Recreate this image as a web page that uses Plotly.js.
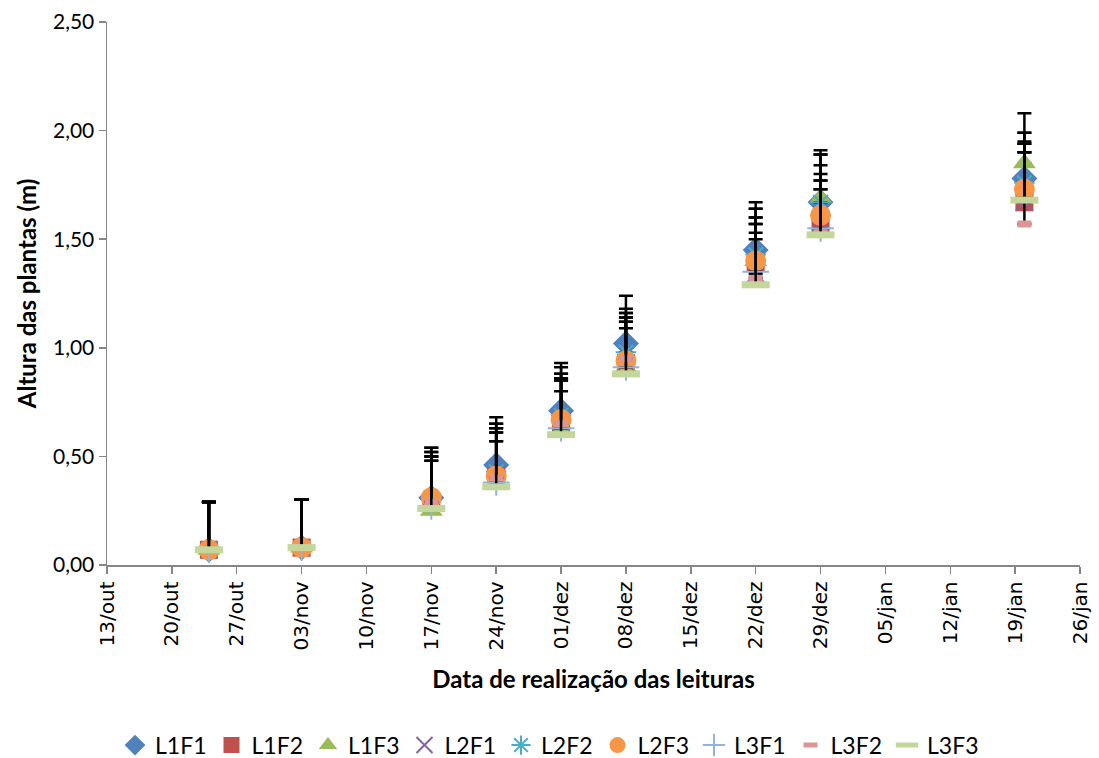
<!DOCTYPE html>
<html>
<head>
<meta charset="utf-8">
<script src="https://cdn.plot.ly/plotly-3.0.1.min.js"></script>
<style>html,body{margin:0;padding:0;background:#fff;}#chart{width:1099px;height:758px;}</style>
</head>
<body>
<div id="chart"></div>
<script>
// Reading dates
var dates = ["2012-10-24","2012-11-03","2012-11-17","2012-11-24","2012-12-01","2012-12-08","2012-12-22","2012-12-29","2013-01-20"];

// Series values (m)
var L1F1 = [0.07,0.08,0.31,0.46,0.71,1.02,1.45,1.67,1.78];
var L1F2 = [0.07,0.08,0.29,0.41,0.65,0.93,1.39,1.57,1.67];
var L1F3 = [0.07,0.08,0.25,0.37,0.62,0.91,1.40,1.69,1.85];
var L2F1 = [0.07,0.08,0.29,0.40,0.66,0.93,1.34,1.58,1.67];
var L2F2 = [0.07,0.08,0.30,0.43,0.69,0.98,1.43,1.67,1.76];
var L2F3 = [0.07,0.08,0.31,0.41,0.67,0.94,1.40,1.61,1.73];
var L3F1 = [0.07,0.08,0.27,0.38,0.63,0.91,1.35,1.55,1.69];
var L3F2 = [0.07,0.08,0.29,0.40,0.65,0.95,1.32,1.53,1.57];
var L3F3 = [0.07,0.08,0.26,0.36,0.60,0.88,1.29,1.52,1.68];

// Plus error values (m)
var errL1F1 = [0.22,0.22,0.23,0.22,0.22,0.22,0.22,0.22,0.21];
var errL1F2 = [0.22,0.22,0.23,0.22,0.21,0.21,0.21,0.23,0.27];
var errL1F3 = [0.22,0.22,0.25,0.24,0.26,0.25,0.24,0.22,0.23];
var errL2F1 = [0.22,0.22,0.23,0.23,0.20,0.19,0.23,0.19,0.23];
var errL2F2 = [0.22,0.22,0.24,0.22,0.22,0.20,0.21,0.22,0.23];
var errL2F3 = [0.22,0.22,0.19,0.24,0.21,0.22,0.20,0.23,0.22];
var errL3F1 = [0.22,0.22,0.21,0.19,0.22,0.21,0.18,0.22,0.25];
var errL3F2 = [0.22,0.22,0.21,0.21,0.20,0.19,0.25,0.20,0.33];
var errL3F3 = [0.22,0.22,0.22,0.21,0.20,0.21,0.21,0.21,0.22];

// X tick positions and labels
var tickDates = ["2012-10-13","2012-10-20","2012-10-27","2012-11-03","2012-11-10","2012-11-17","2012-11-24","2012-12-01","2012-12-08","2012-12-15","2012-12-22","2012-12-29","2013-01-05","2013-01-12","2013-01-19","2013-01-26"];
var tickLabels = ["13/out","20/out","27/out","03/nov","10/nov","17/nov","24/nov","01/dez","08/dez","15/dez","22/dez","29/dez","05/jan","12/jan","19/jan","26/jan"];

var zeros = dates.map(function(){return 0;});

function mk(name, y, err, marker) {
  return {
    type: 'scatter', mode: 'markers', name: name,
    x: dates, y: y, marker: marker,
    error_y: {type: 'data', symmetric: false, array: err, arrayminus: zeros,
              color: '#000000', thickness: 2.5, width: 7}
  };
}

var traces = [
  mk('L1F1', L1F1, errL1F1, {symbol: 'diamond', color: '#4F81BD', size: 20}),
  mk('L1F2', L1F2, errL1F2, {symbol: 'square', color: '#C0504D', size: 18}),
  mk('L1F3', L1F3, errL1F3, {symbol: 'triangle-up', color: '#9BBB59', size: 20}),
  mk('L2F1', L2F1, errL2F1, {symbol: 'x-thin-open', color: '#8064A2', size: 17, line: {color: '#8064A2', width: 2}}),
  mk('L2F2', L2F2, errL2F2, {symbol: 'asterisk-open', color: '#4BACC6', size: 17, line: {color: '#4BACC6', width: 2}}),
  mk('L2F3', L2F3, errL2F3, {symbol: 'circle', color: '#F79646', size: 21}),
  mk('L3F1', L3F1, errL3F1, {symbol: 'cross-thin-open', color: '#95B3D7', size: 19, line: {color: '#95B3D7', width: 2}}),
  mk('L3F2', L3F2, errL3F2, {symbol: 'line-ew-open', color: '#D99694', size: 10, line: {color: '#D99694', width: 7}}),
  mk('L3F3', L3F3, errL3F3, {symbol: 'line-ew-open', color: '#C3D69B', size: 20, line: {color: '#C3D69B', width: 7}})
];

var layout = {
  width: 1099, height: 758,
  margin: {l: 107, r: 19, t: 22, b: 193},
  paper_bgcolor: '#ffffff', plot_bgcolor: '#ffffff',
  separators: ',.',
  font: {family: 'Lato, "Open Sans", sans-serif', color: '#000000', size: 21},
  showlegend: true,
  legend: {orientation: 'h', x: 0.5, xref: 'container', xanchor: 'center',
           y: 0.017, yref: 'container', yanchor: 'middle',
           font: {size: 23, family: 'Lato, "Open Sans", sans-serif'}, itemwidth: 30, tracegroupgap: 0},
  xaxis: {
    type: 'date', range: ['2012-10-13', '2013-01-26'], automargin: false,
    tickmode: 'array', tickvals: tickDates, ticktext: tickLabels, tickangle: -90,
    tickfont: {family: '"DejaVu Sans", sans-serif', size: 20},
    showgrid: false, zeroline: false, showline: true, linecolor: '#868686', linewidth: 1.5,
    ticks: 'outside', ticklen: 7, tickcolor: '#868686', tickwidth: 1.5,
    title: {text: 'Data de realização das leituras', font: {size: 24, family: 'Lato, "Open Sans", sans-serif', weight: 'bold'}, standoff: 22}
  },
  yaxis: {
    range: [0, 2.5], dtick: 0.5, tick0: 0, tickformat: '.2f', automargin: false,
    showgrid: false, zeroline: false, showline: true, linecolor: '#868686', linewidth: 1.5,
    ticks: 'outside', ticklen: 7, tickcolor: '#868686', tickwidth: 1.5,
    tickfont: {size: 21},
    title: {text: 'Altura das plantas (m)', font: {size: 24, family: 'Lato, "Open Sans", sans-serif', weight: 'bold'}, standoff: 9}
  }
};

Plotly.newPlot('chart', traces, layout, {displayModeBar: false, staticPlot: true});
</script>
</body>
</html>
